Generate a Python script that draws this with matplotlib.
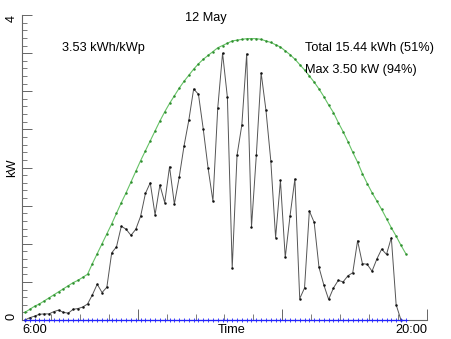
#PV output plot for one day, 10 minute samples
#python3

import numpy as np
import matplotlib
matplotlib.use('Agg')
import matplotlib.pyplot as plt
from matplotlib.ticker import MultipleLocator

plt.rcParams['font.family'] = ['Liberation Sans', 'DejaVu Sans']

TITLE = '12 May'
YIELD_TXT = '3.53 kWh/kWp'
TOTAL_TXT = 'Total 15.44 kWh (51%)'
MAX_TXT = 'Max 3.50 kW (94%)'

START = 6 + 6 / 60.0   # first sample, hours
STEP = 10 / 60.0       # sample interval, hours

# measured power, kW
power = [0.00, 0.03, 0.05, 0.075, 0.08, 0.08, 0.11, 0.13, 0.10, 0.09,
         0.14, 0.15, 0.17, 0.21, 0.33, 0.47, 0.36, 0.43, 0.88, 0.96,
         1.23, 1.19, 1.11, 1.19, 1.36, 1.66, 1.80, 1.38, 1.77, 1.54,
         2.01, 1.52, 1.87, 2.28, 2.62, 3.03, 2.96, 2.50, 1.99, 1.56,
         2.78, 3.50, 2.92, 0.68, 2.16, 2.56, 3.49, 1.22, 2.16, 3.24,
         2.75, 2.09, 1.08, 1.83, 0.82, 1.37, 1.85, 0.28, 0.42, 1.43,
         1.28, 0.69, 0.46, 0.27, 0.42, 0.52, 0.50, 0.58, 0.62, 1.04,
         0.74, 0.73, 0.64, 0.80, 0.93, 0.86, 1.08, 0.20, 0.00]

# clear sky model, kW
clear = [0.10, 0.14, 0.18, 0.21, 0.25, 0.29, 0.33, 0.37, 0.41, 0.45,
         0.49, 0.52, 0.56, 0.60, 0.74, 0.87, 1.00, 1.13, 1.26, 1.40,
         1.54, 1.67, 1.81, 1.95, 2.09, 2.22, 2.35, 2.48, 2.61, 2.73,
         2.84, 2.94, 3.04, 3.13, 3.21, 3.29, 3.36, 3.42, 3.47, 3.52,
         3.57, 3.60, 3.63, 3.66, 3.67, 3.68, 3.69, 3.69, 3.69, 3.68,
         3.66, 3.64, 3.61, 3.58, 3.53, 3.48, 3.42, 3.35, 3.28, 3.20,
         3.12, 3.03, 2.93, 2.82, 2.72, 2.59, 2.47, 2.34, 2.20, 2.07,
         1.92, 1.79, 1.67, 1.56, 1.45, 1.33, 1.21, 1.10, 0.98, 0.87]

# third channel, all zero on this day
other = [0.0] * len(clear)

t_power = START + STEP * np.arange(len(power))
t_clear = START + STEP * np.arange(len(clear))

fig = plt.figure(figsize=(4.52, 3.39), dpi=100)
ax = fig.add_axes([22 / 452, 19 / 339, 405 / 452, 305 / 339])

ax.plot(t_clear, clear, color='#66c266', lw=0.8, marker='.', ms=1.6,
        mfc='#2f8f2f', mec='#2f8f2f', clip_on=False, zorder=3)
ax.plot(t_power, power, color='#555555', lw=0.7, marker='.', ms=1.6,
        mfc='#111111', mec='#111111', clip_on=False, zorder=4)
ax.plot(t_clear, other, color='#2222ff', lw=0.9, marker='+', ms=2.8, mew=0.6,
        clip_on=False, zorder=5)

ax.set_xlim(6, 20)
ax.set_ylim(0, 4)

for s in ['top', 'right']:
    ax.spines[s].set_visible(False)
for s in ['left', 'bottom']:
    ax.spines[s].set_color('#666666')
    ax.spines[s].set_linewidth(0.8)

ax.xaxis.set_major_locator(MultipleLocator(5))
ax.xaxis.set_minor_locator(MultipleLocator(1))
ax.yaxis.set_major_locator(MultipleLocator(0.5))
ax.yaxis.set_minor_locator(MultipleLocator(0.1))
ax.tick_params(which='major', direction='in', length=7, width=0.7, color='#666666',
               labelbottom=False, labelleft=False)
ax.tick_params(which='minor', direction='in', length=3.5, width=0.6, color='#666666')
ax.tick_params(axis='x', which='major', length=8)
ax.tick_params(axis='x', which='minor', length=4)

xt = ax.get_xaxis_transform()
yt = ax.get_yaxis_transform()
fs = 9.2
ax.text(6, -0.033, '6:00', transform=xt, ha='left', va='center', fontsize=fs)
ax.text(20, -0.033, '20:00', transform=xt, ha='right', va='center', fontsize=fs)
ax.text(0.519, -0.033, 'Time', transform=ax.transAxes, ha='center', va='center', fontsize=fs)
ax.text(-0.025, 4, '4', transform=yt, ha='center', va='top', rotation=90, fontsize=fs)
ax.text(-0.025, 0, '0', transform=yt, ha='center', va='bottom', rotation=90, fontsize=fs)
ax.text(-0.025, 0.5, 'kW', transform=ax.transAxes, ha='center', va='center',
        rotation=90, fontsize=fs)

fig.text(185 / 452, 1 - 18 / 339, TITLE, ha='left', va='center', fontsize=fs)
fig.text(62 / 452, 1 - 48 / 339, YIELD_TXT, ha='left', va='center', fontsize=fs)
fig.text(305 / 452, 1 - 48 / 339, TOTAL_TXT, ha='left', va='center', fontsize=fs)
fig.text(305 / 452, 1 - 70 / 339, MAX_TXT, ha='left', va='center', fontsize=fs)

fig.savefig('out.png', dpi=100)
